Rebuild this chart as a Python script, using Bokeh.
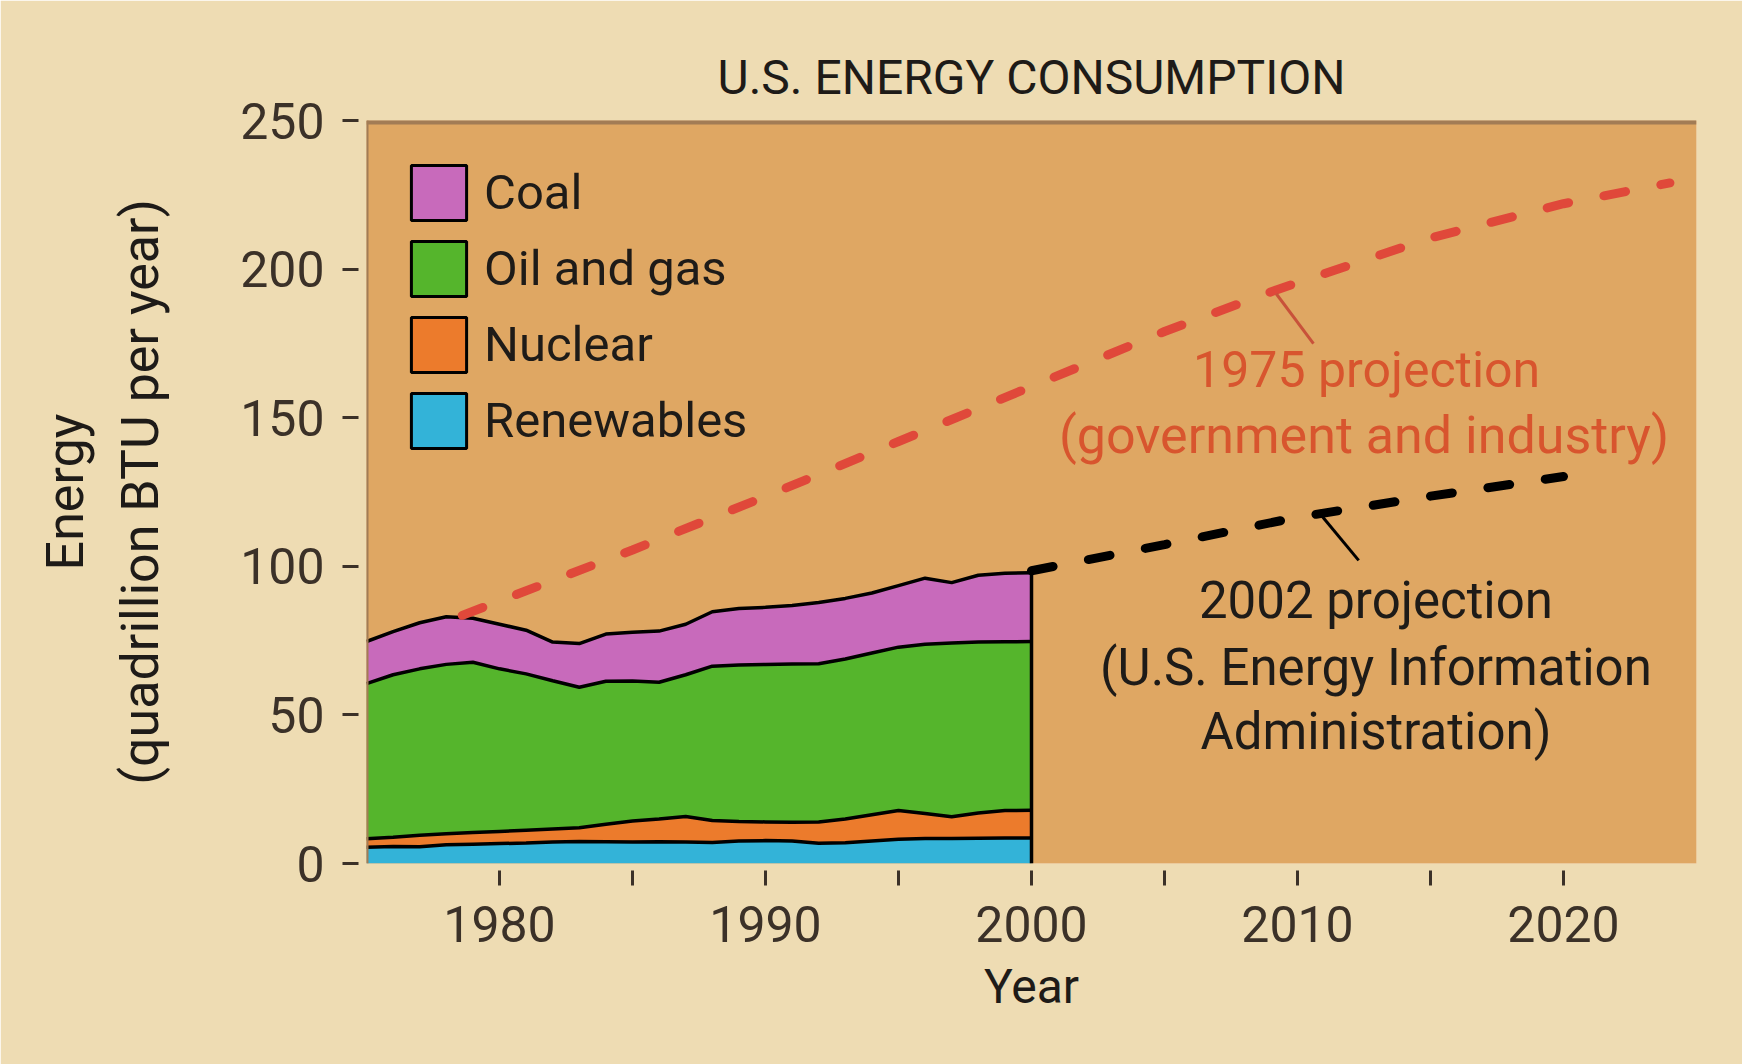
from bokeh.plotting import figure
from bokeh.models import (ColumnDataSource, Range1d, FixedTicker, Label, Span,
                          Legend, LegendItem, LinearAxis)
from bokeh.embed import file_html
from bokeh.resources import INLINE

# ---------------- data ----------------
years = list(range(1975, 2001))
renewables = [5.5, 5.7, 5.6, 6.3, 6.5, 6.7, 6.9, 7.2, 7.4, 7.3, 7.2, 7.3, 7.2,
              7.1, 7.6, 7.7, 7.6, 6.8, 7.0, 7.6, 8.2, 8.4, 8.4, 8.5, 8.6, 8.6]
nuclear = [2.8, 3.1, 3.9, 3.7, 3.9, 4.1, 4.3, 4.4, 4.6, 5.9, 7.1, 7.7, 8.6,
           7.4, 6.5, 6.3, 6.3, 7.2, 8.0, 8.8, 9.6, 8.4, 7.3, 8.5, 9.2, 9.3]
oil_gas = [52.2, 54.7, 56.0, 57.0, 57.3, 54.7, 52.6, 49.9, 47.3, 48.1, 47.1, 46.0, 47.7,
           51.9, 52.7, 53.0, 53.2, 53.2, 53.8, 54.4, 55.0, 57.0, 58.5, 57.5, 56.8, 56.8]
coal = [14.2, 14.5, 15.5, 16.0, 14.8, 15.0, 14.7, 13.0, 14.7, 15.9, 16.4, 17.2, 17.0,
        18.3, 19.0, 19.2, 19.7, 20.6, 20.4, 20.2, 20.7, 22.2, 20.3, 22.5, 23.1, 23.1]

proj1975_years = [1978.6, 1985, 1990, 1995, 2000, 2005, 2009.2, 2015, 2020, 2024]
proj1975_values = [83.5, 105.5, 123.5, 142.0, 160.5, 179.0, 193.0, 210.5, 222.0, 229.0]
proj2002_years = [2000, 2005, 2010, 2015, 2020]
proj2002_values = [98.5, 107.3, 116.5, 123.6, 130.2]

series_names = ["Coal", "Oil and gas", "Nuclear", "Renewables"]
series_colors = ["#C86ABB", "#55B52C", "#EC7B2C", "#33B3D8"]

x_ticks = [1980, 1985, 1990, 1995, 2000, 2005, 2010, 2015, 2020]
x_tick_labels = {1980: "1980", 1985: "", 1990: "1990", 1995: "", 2000: "2000",
                 2005: "", 2010: "2010", 2015: "", 2020: "2020"}
y_ticks = [0, 50, 100, 150, 200, 250]

# annotation leader lines (x0, y0, x1, y1)
leader_1975 = [2009.2, 191.7, 2010.6, 174.9]
leader_2002 = [2010.9, 117.1, 2012.3, 102.0]

FONT = "Roboto"
INK = "#1E1B18"
AXIS_INK = "#3B3128"
RED_LINE = "#E0483A"
RED_TEXT = "#D8552E"

# ---------------- figure ----------------
p = figure(width=1742, height=1064,
           x_range=Range1d(1975, 2025), y_range=Range1d(0, 250),
           output_backend="svg", toolbar_location=None,
           min_border_left=366, min_border_right=46,
           min_border_top=120, min_border_bottom=201)
p.background_fill_color = "#DFA763"
p.border_fill_color = "#EEDCB3"
p.outline_line_color = None
p.grid.visible = False

# title
p.title.text = "U.S. ENERGY CONSUMPTION"
p.title.text_font = FONT
p.title.text_font_size = "48px"
p.title.text_font_style = "normal"
p.title.text_color = INK
p.title.align = "center"
p.title.offset = 8
p.title.standoff = 30

source = ColumnDataSource(dict(year=years, renew=renewables, nuclear=nuclear,
                               oil=oil_gas, coal=coal))
stackers = ["renew", "nuclear", "oil", "coal"]
p.varea_stack(stackers=stackers, x="year", source=source,
              color=[series_colors[3], series_colors[2], series_colors[1], series_colors[0]])
p.vline_stack(stackers=stackers, x="year", source=source,
              line_color="black", line_width=3.5)
total_last = renewables[-1] + nuclear[-1] + oil_gas[-1] + coal[-1]
p.segment(x0=[years[-1]], y0=[0], x1=[years[-1]], y1=[total_last],
          line_color="black", line_width=3.5)

# frame borders (top and left)
p.add_layout(Span(location=250, dimension="width", line_color="#A27C55", line_width=8))
p.add_layout(Span(location=1975, dimension="height", line_color="#A27C55", line_width=4))

# projections
p.line(proj1975_years, proj1975_values, line_color=RED_LINE, line_width=9,
       line_dash="22 36", line_cap="round")
p.line(proj2002_years, proj2002_values, line_color="black", line_width=9,
       line_dash="22 36", line_cap="round")
p.segment(x0=[leader_1975[0]], y0=[leader_1975[1]], x1=[leader_1975[2]], y1=[leader_1975[3]],
          line_color="#C8523A", line_width=3)
p.segment(x0=[leader_2002[0]], y0=[leader_2002[1]], x1=[leader_2002[2]], y1=[leader_2002[3]],
          line_color="black", line_width=3)

# x axis
xa = p.xaxis[0]
xa.ticker = FixedTicker(ticks=x_ticks)
xa.major_label_overrides = x_tick_labels
xa.axis_line_color = None
xa.major_tick_in = -7
xa.major_tick_out = 22
xa.major_tick_line_color = AXIS_INK
xa.major_tick_line_width = 3
xa.minor_tick_line_color = None
xa.major_label_text_font = FONT
xa.major_label_text_font_size = "50px"
xa.major_label_text_color = AXIS_INK
xa.major_label_standoff = 20
xa.axis_label = "Year"
xa.axis_label_text_font = FONT
xa.axis_label_text_font_size = "48px"
xa.axis_label_text_font_style = "normal"
xa.axis_label_text_color = INK
xa.axis_label_standoff = 13

# y axis
ya = p.yaxis[0]
ya.ticker = FixedTicker(ticks=y_ticks)
ya.axis_line_color = None
ya.major_tick_in = -8
ya.major_tick_out = 24
ya.major_tick_line_color = AXIS_INK
ya.major_tick_line_width = 3
ya.minor_tick_line_color = None
ya.major_label_text_font = FONT
ya.major_label_text_font_size = "50px"
ya.major_label_text_color = AXIS_INK
ya.major_label_standoff = 18
ya.axis_label = "(quadrillion BTU per year)"
ya.axis_label_text_font = FONT
ya.axis_label_text_font_size = "52px"
ya.axis_label_text_font_style = "normal"
ya.axis_label_text_color = INK
ya.axis_label_standoff = 66

ya2 = LinearAxis(ticker=FixedTicker(ticks=[]), axis_label="Energy",
                 axis_line_color=None, major_tick_line_color=None,
                 minor_tick_line_color=None, major_tick_in=0, major_tick_out=0,
                 major_label_standoff=0,
                 axis_label_text_font=FONT, axis_label_text_font_size="52px",
                 axis_label_text_font_style="normal", axis_label_text_color=INK,
                 axis_label_standoff=12)
p.add_layout(ya2, "left")

# legend (proxy glyphs carry the outlined swatches)
items = []
for name, col in zip(series_names, series_colors):
    r = p.quad(left=[years[0]], right=[years[0]], bottom=[0], top=[0], fill_color=col,
               line_color="black", line_width=3)
    items.append(LegendItem(label=name, renderers=[r]))
legend = Legend(items=items, location=(38, 408), glyph_width=69, glyph_height=69,
                spacing=7, padding=0, margin=0, label_standoff=11,
                label_text_font=FONT, label_text_font_size="49px",
                label_text_color=INK, background_fill_alpha=0,
                border_line_color=None)
p.add_layout(legend)

# annotation texts inside the plot
def add_label(x, y, text, color=INK, size="50px"):
    p.add_layout(Label(x=x, y=y, text=text, text_font=FONT, text_font_size=size,
                       text_color=color, text_align="center", text_baseline="middle"))

add_label(2012.6, 166.2, "1975 projection", color=RED_TEXT)
add_label(2012.5, 144.0, "(government and industry)", color=RED_TEXT, size="52px")
add_label(2012.95, 88.5, "2002 projection", size="51px")
add_label(2012.95, 65.9, "(U.S. Energy Information", size="51px")
add_label(2012.95, 44.4, "Administration)", size="51px")

open("out.html", "w").write(file_html(p, INLINE))
